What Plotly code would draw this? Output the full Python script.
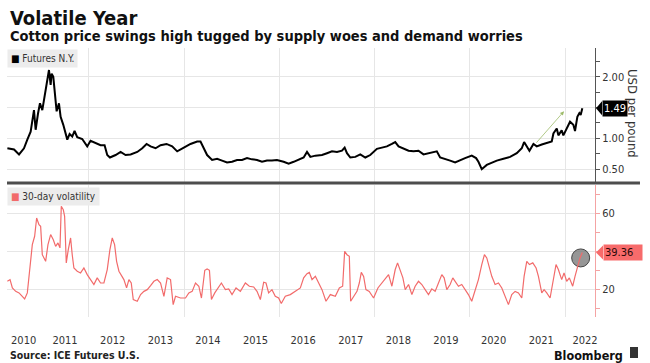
import plotly.graph_objects as go
from datetime import datetime

# ---------------- data (time as decimal years) ----------------
price_t = [2010.288, 2010.428, 2010.533, 2010.637, 2010.707, 2010.777, 2010.847, 2010.882, 2010.931, 2010.973,
           2011.022, 2011.071, 2011.127, 2011.162, 2011.197, 2011.218, 2011.253, 2011.281, 2011.323, 2011.372,
           2011.407, 2011.463, 2011.512, 2011.547, 2011.596, 2011.651, 2011.700, 2011.756, 2011.861, 2011.966,
           2012.036, 2012.141, 2012.246, 2012.330, 2012.386, 2012.442, 2012.561, 2012.666, 2012.770, 2012.875,
           2013.015, 2013.120, 2013.211, 2013.295, 2013.400, 2013.505, 2013.630, 2013.749, 2013.854, 2013.994,
           2014.134, 2014.274, 2014.344,
           2014.413, 2014.483, 2014.588, 2014.693, 2014.797, 2014.902, 2015.007, 2015.112, 2015.217, 2015.322,
           2015.427, 2015.532, 2015.637, 2015.742, 2015.846, 2015.951, 2016.091, 2016.196, 2016.301, 2016.406,
           2016.511, 2016.581, 2016.651, 2016.756, 2016.895, 2017.000, 2017.105, 2017.210, 2017.315, 2017.371,
           2017.420, 2017.490, 2017.595, 2017.700, 2017.805, 2017.909, 2018.049, 2018.154, 2018.259, 2018.364,
           2018.434,
           2018.504, 2018.609, 2018.714, 2018.819, 2018.923, 2019.028, 2019.133, 2019.238, 2019.308, 2019.378,
           2019.483, 2019.588, 2019.693, 2019.797, 2019.902, 2020.042, 2020.133, 2020.182, 2020.252, 2020.357,
           2020.462, 2020.567, 2020.707, 2020.846, 2020.986, 2021.091, 2021.140, 2021.196, 2021.252, 2021.336,
           2021.406, 2021.511, 2021.616, 2021.721, 2021.756, 2021.826, 2021.860, 2021.930, 2021.965, 2022.035,
           2022.105, 2022.175, 2022.210, 2022.259, 2022.301, 2022.329, 2022.364]
price_v = [0.84, 0.82, 0.74, 0.84, 0.98, 1.11, 1.46, 1.14, 1.40, 1.57,
           1.46, 1.71, 1.92, 2.11, 1.87, 2.05, 2.00, 1.76, 1.44, 1.57,
           1.35, 1.22, 1.08, 0.98, 1.07, 1.03, 1.12, 1.02, 0.99, 0.87,
           0.96, 0.92, 0.89, 0.89, 0.73, 0.69, 0.73, 0.78, 0.73, 0.74,
           0.78, 0.84, 0.91, 0.87, 0.84, 0.89, 0.91, 0.87, 0.79, 0.85,
           0.91, 0.95, 0.95,
           0.84, 0.73, 0.65, 0.67, 0.64, 0.61, 0.62, 0.65, 0.65, 0.68,
           0.66, 0.65, 0.62, 0.64, 0.64, 0.65, 0.62, 0.59, 0.62, 0.66,
           0.69, 0.78, 0.70, 0.72, 0.73, 0.76, 0.79, 0.78, 0.80, 0.85,
           0.76, 0.69, 0.70, 0.74, 0.69, 0.73, 0.83, 0.85, 0.87, 0.91,
           0.94,
           0.87, 0.84, 0.80, 0.79, 0.80, 0.74, 0.76, 0.78, 0.79, 0.69,
           0.67, 0.64, 0.61, 0.65, 0.68, 0.72, 0.68, 0.62, 0.50, 0.57,
           0.61, 0.64, 0.67, 0.70, 0.76, 0.84, 0.94, 0.87, 0.80, 0.91,
           0.87, 0.90, 0.92, 0.95, 1.08, 1.16, 1.05, 1.13, 1.05, 1.16,
           1.27, 1.22, 1.12, 1.35, 1.41, 1.38, 1.49]

vol_t = [2010.288, 2010.344, 2010.393, 2010.463, 2010.533, 2010.602, 2010.651, 2010.707, 2010.763, 2010.812,
         2010.861, 2010.903, 2010.952, 2010.987, 2011.022, 2011.092, 2011.141, 2011.197, 2011.253, 2011.302,
         2011.351, 2011.393, 2011.421, 2011.463, 2011.491, 2011.526, 2011.568, 2011.617, 2011.651, 2011.686,
         2011.756, 2011.826, 2011.896, 2011.966, 2012.036, 2012.106, 2012.176, 2012.246, 2012.316, 2012.386,
         2012.442, 2012.491, 2012.540, 2012.582, 2012.631, 2012.679, 2012.735, 2012.791, 2012.840, 2012.889,
         2012.931, 2013.015, 2013.085, 2013.155, 2013.225, 2013.295, 2013.365, 2013.435, 2013.505, 2013.575,
         2013.644, 2013.714, 2013.770, 2013.819, 2013.924, 2014.029, 2014.099, 2014.169, 2014.239, 2014.309,
         2014.364, 2014.434, 2014.483, 2014.532, 2014.574, 2014.644, 2014.714, 2014.783, 2014.867, 2014.937,
         2015.007, 2015.091, 2015.182, 2015.287, 2015.371, 2015.462, 2015.532, 2015.602, 2015.672, 2015.721,
         2015.776, 2015.846, 2015.916, 2015.986, 2016.042, 2016.126, 2016.231, 2016.336, 2016.441, 2016.511,
         2016.581, 2016.630, 2016.686, 2016.756, 2016.825, 2016.895, 2016.979, 2017.070, 2017.175, 2017.259,
         2017.329, 2017.371, 2017.420, 2017.469, 2017.497, 2017.560, 2017.630, 2017.679, 2017.721, 2017.770,
         2017.818, 2017.888, 2017.979, 2018.070, 2018.154, 2018.224, 2018.294, 2018.364, 2018.434,
         2018.483, 2018.539, 2018.595, 2018.644, 2018.714, 2018.784, 2018.853, 2018.923, 2018.993, 2019.063,
         2019.133, 2019.203, 2019.273, 2019.343, 2019.413, 2019.462, 2019.518, 2019.588, 2019.644, 2019.693,
         2019.763, 2019.832, 2019.902, 2019.972, 2020.042, 2020.112, 2020.182, 2020.252, 2020.308, 2020.357,
         2020.413, 2020.462, 2020.532, 2020.602, 2020.672, 2020.741, 2020.811, 2020.881, 2020.951, 2021.021,
         2021.091, 2021.140, 2021.196, 2021.252, 2021.322, 2021.392, 2021.441, 2021.511, 2021.560, 2021.616,
         2021.686, 2021.742, 2021.811, 2021.860, 2021.930, 2021.979, 2022.035, 2022.091, 2022.161, 2022.210,
         2022.259, 2022.315, 2022.364]
vol_v = [24.2, 25.1, 20.7, 18.9, 18.1, 16.3, 14.9, 18.1, 30.4, 43.5,
         47.9, 57.5, 54.0, 53.2, 38.2, 34.7, 43.5, 48.8, 46.1, 42.6,
         44.4, 41.8, 63.7, 61.9, 58.4, 33.9, 40.9, 47.0, 38.2, 31.2,
         29.5, 28.6, 31.2, 27.7, 25.1, 22.5, 26.0, 23.3, 23.3, 30.4,
         40.9, 47.0, 43.5, 34.7, 29.5, 27.7, 25.1, 20.7, 25.1, 23.3,
         14.6, 13.7, 17.2, 18.9, 19.8, 21.9, 24.2, 25.1, 23.3, 16.3,
         26.0, 25.1, 11.9, 16.3, 15.4, 15.4, 18.1, 18.9, 23.3, 21.6,
         15.4, 30.0, 30.7, 30.0, 14.6, 18.1, 20.7, 23.3, 19.8, 20.2,
         17.2, 20.7, 18.9, 23.3, 21.6, 21.2, 18.9, 14.6, 23.7, 23.3,
         18.1, 19.8, 16.3, 15.4, 12.5, 16.3, 17.2, 18.9, 20.7, 26.0,
         28.2, 28.9, 25.1, 26.8, 23.3, 19.8, 13.7, 17.2, 16.3, 20.7,
         21.6, 40.0, 38.2, 37.4, 13.7, 16.3, 18.9, 23.3, 28.9, 26.8,
         19.8, 18.9, 15.4, 20.7, 23.3, 26.0, 27.7, 21.6, 30.4,
         33.9, 29.5, 26.0, 19.8, 22.5, 17.2, 21.6, 24.2, 22.5, 19.8,
         17.2, 20.2, 18.9, 23.3, 27.7, 26.0, 19.8, 22.5, 26.0, 24.2,
         21.6, 22.5, 19.8, 17.2, 13.7, 19.8, 25.1, 33.0, 38.2, 36.5,
         30.4, 26.8, 22.5, 23.3, 20.7, 16.3, 11.9, 17.2, 18.9, 18.1,
         15.4, 26.8, 34.7, 33.0, 33.9, 31.2, 26.8, 18.1, 19.8, 18.1,
         15.4, 23.3, 33.0, 30.4, 25.1, 28.6, 24.2, 26.0, 21.6, 26.8,
         32.1, 36.5, 39.36]

year_labels = ["2010", "2011", "2012", "2013", "2014", "2015", "2016",
               "2017", "2018", "2019", "2020", "2021", "2022"]
year_label_t = [2010.63, 2011.5, 2012.5, 2013.5, 2014.5, 2015.5, 2016.5,
                2017.5, 2018.5, 2019.5, 2020.5, 2021.5, 2022.42]
grid_years_t = [2012, 2014, 2016, 2018, 2020, 2022]
x_range_t = [2010.28, 2022.63]

price_ticks = [0.5, 1.0, 1.5, 2.0]
price_ticktext = ["0.50", "1.00", "", "2.00"]
vol_ticks = [20, 40, 60]
vol_ticktext = ["20", "", "60"]

last_price = 1.49
last_vol = 39.36
highlight_t, highlight_v = 2022.329, 36.5
arrow_from = (2021.371, 0.906)
arrow_to = (2021.979, 1.44)


def to_date(t):
    y = int(t)
    a, b = datetime(y, 1, 1), datetime(y + 1, 1, 1)
    return (a + (b - a) * (t - y)).strftime("%Y-%m-%d %H:%M")


price_x = [to_date(t) for t in price_t]
vol_x = [to_date(t) for t in vol_t]

F = "DejaVu Sans Condensed, DejaVu Sans, sans-serif"
GRID = "#e6e6e6"
RED = "#f26b6b"

fig = go.Figure()
fig.add_trace(go.Scatter(x=price_x, y=price_v, mode="lines",
                         line=dict(color="#000000", width=2),
                         xaxis="x", yaxis="y", hoverinfo="skip"))
fig.add_trace(go.Scatter(x=[to_date(highlight_t)], y=[highlight_v], mode="markers",
                         marker=dict(size=18, color="rgba(115,115,115,0.75)",
                                     line=dict(color="#444444", width=1)),
                         xaxis="x2", yaxis="y2", hoverinfo="skip"))
fig.add_trace(go.Scatter(x=vol_x, y=vol_v, mode="lines",
                         line=dict(color=RED, width=1.2),
                         xaxis="x2", yaxis="y2", hoverinfo="skip"))

xr = [to_date(t) for t in x_range_t]
minor_grid = dict(tickmode="array", tickvals=[to_date(t) for t in grid_years_t],
                  showgrid=True, gridcolor=GRID, gridwidth=1, ticks="")

top_dom = [0.4981, 1.0]
bot_dom = [0.0, 0.4907]

fig.update_layout(
    width=650, height=363,
    margin=dict(l=7, r=55, t=48, b=46, autoexpand=False),
    paper_bgcolor="white", plot_bgcolor="white",
    showlegend=False,
    font=dict(family=F, size=11, color="#333333"),
    xaxis=dict(type="date", range=xr, domain=[0, 1], anchor="y",
               showticklabels=False, ticks="", showgrid=False, zeroline=False,
               showline=False, minor=minor_grid),
    xaxis2=dict(type="date", range=xr, domain=[0, 1], anchor="y2", matches="x",
                tickmode="array", tickvals=[to_date(t) for t in year_label_t],
                ticktext=year_labels, ticks="", showgrid=False, zeroline=False,
                showline=False, minor=minor_grid, ticklabelstandoff=15,
                tickfont=dict(family=F, size=11, color="#333333")),
    yaxis=dict(domain=top_dom, anchor="x", side="right", range=[0.276, 2.467],
               tickmode="array", tickvals=price_ticks, ticktext=price_ticktext,
               showgrid=True, gridcolor=GRID, zeroline=False,
               showline=True, linecolor="#555555", linewidth=1,
               ticks="outside", ticklen=4, tickcolor="#555555",
               minor=dict(tickmode="linear", tick0=0, dtick=0.25, ticks="outside",
                          ticklen=4, tickcolor="#555555", showgrid=False),
               tickfont=dict(family=F, size=11, color="#333333")),
    yaxis2=dict(domain=bot_dom, anchor="x2", side="right", range=[5.4, 74.9],
                tickmode="array", tickvals=vol_ticks, ticktext=vol_ticktext,
                showgrid=True, gridcolor=GRID, zeroline=False,
                showline=True, linecolor="#f4a3a3", linewidth=1,
                ticks="outside", ticklen=4, tickcolor="#f4a3a3",
                minor=dict(tickmode="linear", tick0=0, dtick=10, ticks="outside",
                           ticklen=4, tickcolor="#f4a3a3", showgrid=False),
                tickfont=dict(family=F, size=11, color="#333333")),
)

shapes = [
    # thick separator between panels
    dict(type="line", xref="paper", yref="paper", x0=0, x1=1.0765, y0=0.4981, y1=0.4981,
         line=dict(color="#4d4d4d", width=3)),
    # pointers of last-value labels
    dict(type="path", xref="paper", yref="y", xsizemode="pixel", ysizemode="pixel",
         xanchor=1, yanchor=last_price, path="M1,0 L7,7 L7,-7 Z",
         fillcolor="#000000", line=dict(width=0)),
    dict(type="path", xref="paper", yref="y2", xsizemode="pixel", ysizemode="pixel",
         xanchor=1, yanchor=last_vol, path="M1,0 L8,7 L8,-7 Z",
         fillcolor="#f76b6b", line=dict(width=0)),
    # small logo block after "Bloomberg"
    dict(type="rect", xref="paper", yref="paper", x0=1.0595, x1=1.0731, y0=-0.1525, y1=-0.1115,
         fillcolor="#333333", line=dict(width=0)),
]

annotations = [
    dict(text="<b>Volatile Year</b>", xref="paper", yref="paper", x=0.0017, y=1.113,
         xanchor="left", yanchor="middle", showarrow=False,
         font=dict(family=F, size=20, color="#111111")),
    dict(text="<b>Cotton price swings high tugged by supply woes and demand worries</b>",
         xref="paper", yref="paper", x=0.0017, y=1.043, xanchor="left", yanchor="middle",
         showarrow=False, font=dict(family=F, size=14.5, color="#111111")),
    dict(text="<span style='color:#000000'>■</span> Futures N.Y.", xref="paper", yref="paper",
         x=0, y=0.996, xanchor="left", yanchor="top", showarrow=False,
         bgcolor="#ececec", borderpad=3, font=dict(family=F, size=10, color="#333333")),
    dict(text="<span style='color:#f26b6b'>■</span> 30-day volatility", xref="paper", yref="paper",
         x=0, y=0.4833, xanchor="left", yanchor="top", showarrow=False,
         bgcolor="#ececec", borderpad=3, font=dict(family=F, size=10, color="#333333")),
    dict(text="USD per pound", xref="paper", yref="paper", x=1.0646, y=0.7546,
         xanchor="center", yanchor="middle", textangle=90, showarrow=False,
         font=dict(family=F, size=13, color="#333333")),
    dict(text=f"{last_price:.2f}", xref="paper", yref="y", x=1, y=last_price,
         xanchor="left", yanchor="middle", xshift=7, showarrow=False,
         bgcolor="#000000", borderpad=1, font=dict(family=F, size=11, color="#ffffff")),
    dict(text=f"{last_vol:.2f}", xref="paper", yref="y2", x=1, y=last_vol,
         xanchor="left", yanchor="middle", xshift=8, showarrow=False, width=36, align="left",
         bgcolor="#f76b6b", borderpad=1, font=dict(family=F, size=11, color="#2a0a0a")),
    dict(text="", xref="x", yref="y", x=to_date(arrow_to[0]), y=arrow_to[1],
         axref="x", ayref="y", ax=to_date(arrow_from[0]), ay=arrow_from[1],
         showarrow=True, arrowhead=2, arrowsize=1, arrowwidth=0.8, arrowcolor="#9dbb6a"),
    dict(text="<b>Source: ICE Futures U.S.</b>", xref="paper", yref="paper", x=0.0017, y=-0.1395,
         xanchor="left", yanchor="middle", showarrow=False,
         font=dict(family=F, size=10.5, color="#222222")),
    dict(text="<b>Bloomberg</b>", xref="paper", yref="paper", x=1.051, y=-0.1415,
         xanchor="right", yanchor="middle", showarrow=False,
         font=dict(family=F, size=12.5, color="#111111")),
]

fig.update_layout(shapes=shapes, annotations=annotations)
fig.write_html("out.html", config={"displayModeBar": False},
               post_script="document.body.style.margin='0';")
